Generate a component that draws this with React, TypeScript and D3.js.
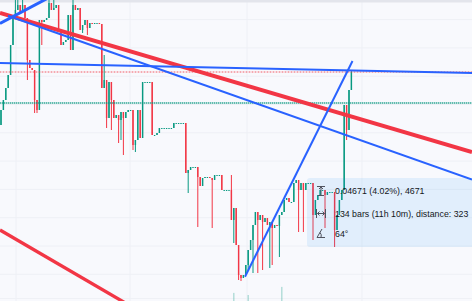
import React from 'react';
import * as d3 from 'd3';

// ---- data (bar index, price) ----
const firstOpen = 1.275;
const closes = [
  1.290, 1.300, 1.312, 1.325, 1.355, 1.385, 1.390, 1.395, 1.388, 1.395,
  1.382, 1.340, 1.332, 1.330, 1.300, 1.290, 1.380, 1.378, 1.380, 1.382,
  1.397, 1.390, 1.392, 1.395, 1.370, 1.355, 1.358, 1.360, 1.385, 1.350,
  1.395, 1.390, 1.392, 1.370, 1.375, 1.380, 1.372, 1.377, 1.376, 1.377,
  1.377, 1.376, 1.312, 1.320, 1.282, 1.318, 1.300, 1.282, 1.285, 1.280,
  1.288, 1.282, 1.288, 1.290, 1.290, 1.255, 1.260, 1.290, 1.262, 1.318,
  1.318, 1.318, 1.318, 1.265, 1.265, 1.267, 1.272, 1.272, 1.272, 1.272,
  1.272, 1.272, 1.277, 1.277, 1.277, 1.277, 1.277, 1.227, 1.230, 1.233,
  1.233, 1.233, 1.223, 1.214, 1.222, 1.223, 1.223, 1.222, 1.220, 1.225,
  1.225, 1.225, 1.210, 1.210, 1.210, 1.210, 1.180, 1.192, 1.155, 1.125,
  1.122, 1.125, 1.135, 1.150, 1.160, 1.175, 1.188, 1.180, 1.185, 1.178,
  1.182, 1.175, 1.178, 1.172, 1.175, 1.174, 1.185, 1.188, 1.200, 1.202,
  1.198, 1.198, 1.217, 1.220, 1.210, 1.217, 1.210, 1.217, 1.217, 1.217,
  1.185, 1.200, 1.205, 1.210, 1.210, 1.205, 1.208, 1.208, 1.208, 1.170,
  1.185, 1.200, 1.210, 1.295, 1.270, 1.310, 1.328,
];
const wickLows: [number, number][] = [
  [11, 1.320], [14, 1.287], [15, 1.287], [17, 1.355], [34, 1.367], [36, 1.365],
  [44, 1.272], [46, 1.270], [49, 1.257], [50, 1.260], [51, 1.245], [55, 1.250],
  [56, 1.248], [78, 1.207], [82, 1.173], [88, 1.172], [97, 1.157], [99, 1.120],
  [100, 1.119], [103, 1.130], [105, 1.127], [107, 1.127], [109, 1.130], [112, 1.132],
  [113, 1.135], [116, 1.143], [124, 1.168], [126, 1.168], [130, 1.160], [135, 1.172],
  [139, 1.153], [144, 1.260],
];
const wickHighs: [number, number][] = [
  [6, 1.408], [7, 1.410], [9, 1.412], [20, 1.405], [22, 1.405], [30, 1.405],
  [43, 1.345], [96, 1.225], [146, 1.330],
];
const volumes: [number, number][] = [[97, 27], [103, 20], [117, 47]];

// drawings: [bar index, price]
const redChannelTop: [number, number][] = [[-0.42, 1.387], [196.25, 1.248]];
const redChannelBottom: [number, number][] = [[-0.42, 1.170], [52.9, 1.0955]];
const blueDownTrend: [number, number][] = [[2.92, 1.3842], [196.25, 1.2204]];
const blueFlatTrend: [number, number][] = [[-0.42, 1.337], [196.25, 1.327]];
const blueUpTopLeft: [number, number][] = [[-0.42, 1.3765], [20.42, 1.403]];
const blueSteepTrend: [number, number][] = [[101.67, 1.1233], [146.46, 1.339]];
const pinkLevel = 1.328;
const tealLevel = 1.297;
const measureBars = [127.5, 200];
const measurePrices = [1.222, 1.153];
const measureLabels = ['0.04671 (4.02%), 4671', '134 bars (11h 10m), distance: 323', '64°'];
const gridBars = [6.25, 53.75, 102.5, 150.4];
const gridPrices = [1.1257, 1.154, 1.1823, 1.2106, 1.2389, 1.2672, 1.2955, 1.3238, 1.3521, 1.3804];

const W = 472;
const H = 301;
const UP = '#089981';
const DOWN = '#f23645';

export default function App() {
  const x = d3.scaleLinear().domain([0, 196.25]).range([1, 472]);
  const y = d3.scaleLinear().domain([1.099, 1.4]).range([301, 0]);
  const vy = d3.scaleLinear().domain([0, 100]).range([301, 271]);
  const line = d3.line<[number, number]>().x(d => x(d[0])).y(d => y(d[1]));

  const lowMap = new Map(wickLows);
  const highMap = new Map(wickHighs);
  const candles = closes.map((c, i) => {
    const o = i === 0 ? firstOpen : closes[i - 1];
    const hi = Math.max(o, c, highMap.get(i) ?? -Infinity);
    const lo = Math.min(o, c, lowMap.get(i) ?? Infinity);
    return { i, o, c, hi, lo };
  });
  const bodyW = 1.4;

  const mx0 = x(measureBars[0]);
  const mx1 = x(measureBars[1]);
  const my0 = y(measurePrices[0]);
  const my1 = y(measurePrices[1]);
  const tx = 335;
  const ix = 321;

  return (
    <div style={{ position: 'fixed', left: 0, top: 0 }}>
      <svg width={W} height={H} style={{ display: 'block' }}>
        <rect width={W} height={H} fill="#f8f9fd" />
        {gridBars.map((b, k) => (
          <line key={'gv' + k} x1={x(b)} x2={x(b)} y1={0} y2={H} stroke="#eef0f6" strokeWidth={1} />
        ))}
        {gridPrices.map((p, k) => (
          <line key={'gh' + k} x1={0} x2={W} y1={y(p)} y2={y(p)} stroke="#eef0f6" strokeWidth={1} />
        ))}
        <line x1={0} x2={W} y1={298.5} y2={298.5} stroke="#eff1f6" strokeWidth={1} />
        <rect x={0} y={0} width={W} height={2.5} fill="#e3e5ec" />

        {volumes.map(([b, v], k) => (
          <rect key={'v' + k} x={x(b) - 0.7} width={1.4} y={vy(v)} height={vy(0) - vy(v)}
            fill={closes[b] >= closes[b - 1] ? UP : DOWN} opacity={0.3} />
        ))}

        {candles.map(d => {
          const col = d.c >= d.o ? UP : DOWN;
          const cx = x(d.i);
          const top = y(Math.max(d.o, d.c));
          const h = Math.max(1, y(Math.min(d.o, d.c)) - top);
          return (
            <g key={'c' + d.i}>
              <line x1={cx} x2={cx} y1={y(d.hi)} y2={y(d.lo)} stroke={col} strokeWidth={1} />
              <rect x={cx - bodyW / 2} y={top} width={bodyW} height={h} fill={col} />
            </g>
          );
        })}

        <line x1={0} x2={W} y1={y(pinkLevel)} y2={y(pinkLevel)} stroke="#f23645" strokeOpacity={0.15} strokeWidth={2} />
        <line x1={0} x2={W} y1={y(pinkLevel)} y2={y(pinkLevel)} stroke="#f23645" strokeOpacity={0.6} strokeWidth={1} strokeDasharray="1 2" />
        <line x1={0} x2={W} y1={y(tealLevel)} y2={y(tealLevel)} stroke="#089981" strokeOpacity={0.25} strokeWidth={2} />
        <line x1={0} x2={W} y1={y(tealLevel)} y2={y(tealLevel)} stroke="#089981" strokeWidth={1} strokeDasharray="1 1" />

        <path d={line(redChannelTop) ?? ''} stroke={DOWN} strokeWidth={4} fill="none" />
        <path d={line(redChannelBottom) ?? ''} stroke={DOWN} strokeWidth={3.3} fill="none" />
        <path d={line(blueFlatTrend) ?? ''} stroke="#2962ff" strokeWidth={2} fill="none" />
        <path d={line(blueDownTrend) ?? ''} stroke="#2962ff" strokeWidth={2} fill="none" />
        <path d={line(blueUpTopLeft) ?? ''} stroke="#2962ff" strokeWidth={3} fill="none" />
        <path d={line(blueSteepTrend) ?? ''} stroke="#2962ff" strokeWidth={2} fill="none" />

        <rect x={mx0} y={my0} width={mx1 - mx0} height={my1 - my0} rx={3} fill="rgb(33,150,243)" fillOpacity={0.1} />

        <g stroke="#50535e" strokeWidth={1} fill="none">
          <path d={`M${ix - 4},186.5 H${ix + 4} M${ix},187 V195 M${ix - 2},189 L${ix},187 L${ix + 2},189 M${ix - 3},195.5 H${ix + 3}`} />
          <path d={`M${ix - 4.5},209 V218 M${ix + 4.5},209 V218 M${ix - 3.5},213.5 H${ix + 3.5} M${ix - 1.5},211.5 L${ix - 3.5},213.5 L${ix - 1.5},215.5 M${ix + 1.5},211.5 L${ix + 3.5},213.5 L${ix + 1.5},215.5`} />
          <path d={`M${ix - 4},237.5 H${ix + 4} M${ix - 4},237.5 L${ix + 1},229 M${ix - 1},232.5 Q${ix + 1},234.5 ${ix},237.5`} />
        </g>
        <g fontFamily="'Liberation Sans', Arial, sans-serif" fontSize={8.8} fill="#131722">
          <text x={tx} y={194}>{measureLabels[0]}</text>
          <text x={tx} y={216.5}>{measureLabels[1]}</text>
          <text x={tx} y={236.5}>{measureLabels[2]}</text>
        </g>
      </svg>
    </div>
  );
}
